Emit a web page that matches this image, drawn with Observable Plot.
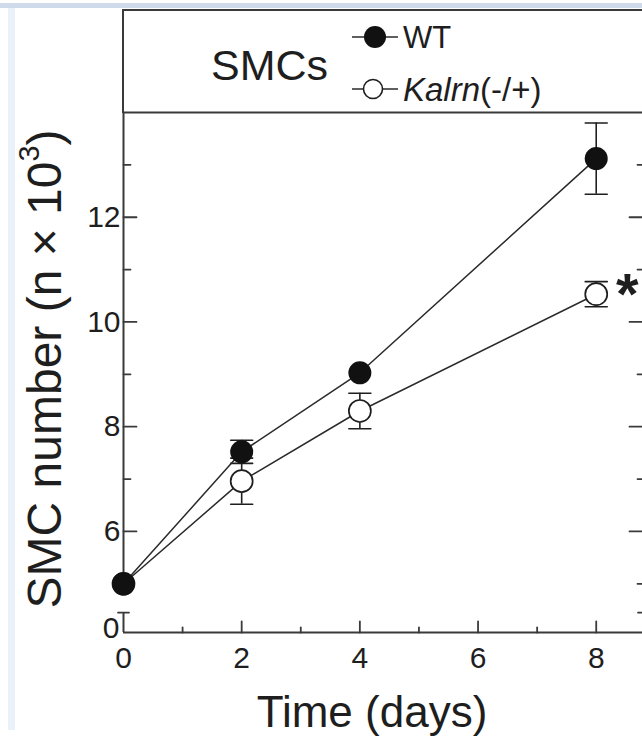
<!DOCTYPE html>
<html>
<head>
<meta charset="utf-8">
<script src="https://cdn.jsdelivr.net/npm/d3@7"></script>
<script src="https://cdn.jsdelivr.net/npm/@observablehq/plot@0.6"></script>
<style>
  html, body { margin: 0; padding: 0; background: #fff; }
  body { font-family: "Liberation Sans", Arial, Helvetica, sans-serif; color: #1e1e1e; }
  #wrap { position: relative; width: 642px; height: 736px; overflow: hidden; background: #fff; }
  #chart { position: absolute; left: 0; top: 0; }
  .bandTop { position: absolute; left: 0; top: 3px; width: 642px; height: 5px; background: #cfdbeb; }
  .bandLeft { position: absolute; left: 8px; top: 8px; width: 7px; height: 722px; background: #ebf1f9; }
  #box { position: absolute; left: 122px; top: 9px; width: 560px; height: 102px;
         border-top: 2px solid #3a3a3a; border-left: 2px solid #3a3a3a; }
  .t { position: absolute; white-space: nowrap; line-height: 1; }
  #smcs { left: 211px; top: 65px; font-size: 43px; transform: translateY(-50%); }
  #lgWT { left: 403px; top: 37px; font-size: 31px; transform: translateY(-50%); }
  #lgKO { left: 403px; top: 89px; font-size: 33px; transform: translateY(-50%); }
  #ylab { left: 45px; top: 369px; font-size: 48px; transform: translate(-50%, -50%) rotate(-90deg); }
  #ylab sup { font-size: 0.6em; vertical-align: 0.75em; line-height: 0; }
  #xlab { left: 372px; top: 712px; font-size: 44px; transform: translate(-50%, -50%); }
  svg.icon { position: absolute; overflow: visible; }
</style>
</head>
<body>
<div id="wrap">
  <div id="chart"></div>
  <div class="bandTop"></div>
  <div class="bandLeft"></div>
  <div id="box"></div>
  <div class="t" id="smcs"></div>
  <svg class="icon" id="iconWT" width="1" height="1"></svg>
  <svg class="icon" id="iconKO" width="1" height="1"></svg>
  <div class="t" id="lgWT"></div>
  <div class="t" id="lgKO"></div>
  <div class="t" id="ylab"></div>
  <div class="t" id="xlab"></div>
</div>
<script>
// ---------------- data ----------------
const days   = [0, 2, 4, 8];
const wtMean = [5.0, 7.52, 9.03, 13.12];
const wtErr  = [null, 0.22, null, 0.68];
const koMean = [5.0, 6.96, 8.30, 10.53];
const koErr  = [null, 0.44, 0.34, 0.24];

const seriesNames = ["WT", "Kalrn"];
const seriesSuffix = ["", "(-/+)"];
const panelTitle = "SMCs";
const xTitle = "Time (days)";
const yTitleMain = "SMC number (n \u00d7 10";
const yTitleSup = "3";
const yTitleEnd = ")";
const sigMark = "*";

const yMajor = [6, 8, 10, 12];
const yMinor = [5, 7, 9, 11, 13];
const xMajor = [2, 4, 6, 8];
const xMinor = [1, 3, 5, 7];
const xLabels = [0, 2, 4, 6, 8];
const yDomain = [4.07, 14];
const xDomain = [0, 8.8];
const axisBreak = [4.45, 4.85];
const yBreakLabel = "0";

// ---------------- build tables ----------------
const wt = days.map((d, i) => ({day: d, mean: wtMean[i], err: wtErr[i]}));
const ko = days.map((d, i) => ({day: d, mean: koMean[i], err: koErr[i]}));
const errs = [...ko, ...wt].filter(r => r.err != null);
const caps = errs.flatMap(r => [{day: r.day, v: r.mean - r.err}, {day: r.day, v: r.mean + r.err}]);

const AX = "#3a3a3a";
const INK = "#1e1e1e";
const seg = {draw(c, l) { c.moveTo(0, 0); c.lineTo(0, -l); }};
const vec = (data, o) => Plot.vector(data, {shape: seg, anchor: "start", stroke: AX, strokeWidth: 1.8, fill: "none", ...o});
const FONT = "Liberation Sans, Arial, Helvetica, sans-serif";

const chart = Plot.plot({
  width: 642, height: 736,
  marginTop: 112, marginBottom: 104, marginLeft: 123, marginRight: -1,
  x: {domain: xDomain, axis: null},
  y: {domain: yDomain, axis: null},
  style: {fontFamily: FONT, background: "transparent", overflow: "visible", color: INK},
  marks: [
    // frame lines
    Plot.ruleY([yDomain[1]], {stroke: AX, strokeWidth: 2}),
    Plot.ruleY([yDomain[0]], {stroke: AX, strokeWidth: 2}),
    Plot.ruleX([xDomain[0]], {y1: axisBreak[1], y2: yDomain[1], stroke: AX, strokeWidth: 2}),
    Plot.ruleX([xDomain[0]], {y1: yDomain[0], y2: axisBreak[0], stroke: AX, strokeWidth: 2}),
    vec([axisBreak[0]], {x: () => xDomain[0], y: d => d, rotate: 90, anchor: "middle", length: 11}),
    vec([axisBreak[0]], {x: () => xDomain[1], y: d => d, rotate: 90, anchor: "middle", length: 11}),
    // left ticks (inward)
    vec(yMajor, {x: () => xDomain[0], y: d => d, rotate: 90, length: 13}),
    vec(yMinor, {x: () => xDomain[0], y: d => d, rotate: 90, length: 7}),
    // right ticks (inward)
    vec(yMajor, {x: () => xDomain[1], y: d => d, rotate: -90, length: 14}),
    vec(yMinor, {x: () => xDomain[1], y: d => d, rotate: -90, length: 6}),
    // bottom ticks (inward)
    vec(xMajor, {x: d => d, y: () => yDomain[0], rotate: 0, length: 11}),
    vec(xMinor, {x: d => d, y: () => yDomain[0], rotate: 0, length: 5}),
    // error bars
    Plot.ruleX(errs, {x: "day", y1: r => r.mean - r.err, y2: r => r.mean + r.err, stroke: INK, strokeWidth: 1.6}),
    vec(caps, {x: "day", y: "v", rotate: 90, anchor: "middle", length: 22, stroke: INK, strokeWidth: 1.6}),
    // lines
    Plot.line(ko, {x: "day", y: "mean", stroke: "#2a2a2a", strokeWidth: 1.5}),
    Plot.line(wt, {x: "day", y: "mean", stroke: "#2a2a2a", strokeWidth: 1.5}),
    // dots
    Plot.dot(ko, {x: "day", y: "mean", r: 11, fill: "white", stroke: INK, strokeWidth: 1.7}),
    Plot.dot(wt, {x: "day", y: "mean", r: 11.5, fill: "#111"}),
    // significance mark
    Plot.text([ko[ko.length - 1]], {x: "day", y: "mean", text: () => sigMark, dx: 31, dy: 1,
      fontSize: 58, fontWeight: "bold", fill: INK}),
    // tick labels
    Plot.text(yMajor, {x: () => xDomain[0], y: d => d, text: d => String(d), textAnchor: "end", dx: -3,
      fontSize: 30, fill: INK}),
    Plot.text([yDomain[0]], {x: () => xDomain[0], y: d => d, text: () => yBreakLabel, textAnchor: "end", dx: -4, dy: -4,
      fontSize: 30, fill: INK}),
    Plot.text(xLabels, {x: d => d, y: () => yDomain[0], text: d => String(d), lineAnchor: "top", dy: 14,
      fontSize: 30, fill: INK})
  ]
});
document.getElementById("chart").appendChild(chart);

// ---------------- titles & legend ----------------
document.getElementById("smcs").textContent = panelTitle;
document.getElementById("xlab").textContent = xTitle;
const yl = document.getElementById("ylab");
yl.innerHTML = "";
yl.append(yTitleMain);
const sup = document.createElement("sup"); sup.textContent = yTitleSup; yl.append(sup);
yl.append(yTitleEnd);

document.getElementById("lgWT").textContent = seriesNames[0] + seriesSuffix[0];
const lk = document.getElementById("lgKO");
const em = document.createElement("i"); em.textContent = seriesNames[1];
lk.append(em, seriesSuffix[1]);

function icon(id, cy, filled) {
  const s = d3.select("#" + id).style("left", "0px").style("top", "0px");
  s.append("line").attr("x1", 352).attr("x2", 398).attr("y1", cy).attr("y2", cy)
    .attr("stroke", "#2a2a2a").attr("stroke-width", 1.5);
  s.append("circle").attr("cx", filled ? 375 : 373).attr("cy", cy).attr("r", filled ? 11 : 9.5)
    .attr("fill", filled ? "#111" : "white").attr("stroke", filled ? "none" : INK).attr("stroke-width", 1.6);
}
icon("iconWT", 37, true);
icon("iconKO", 89, false);
</script>
</body>
</html>
